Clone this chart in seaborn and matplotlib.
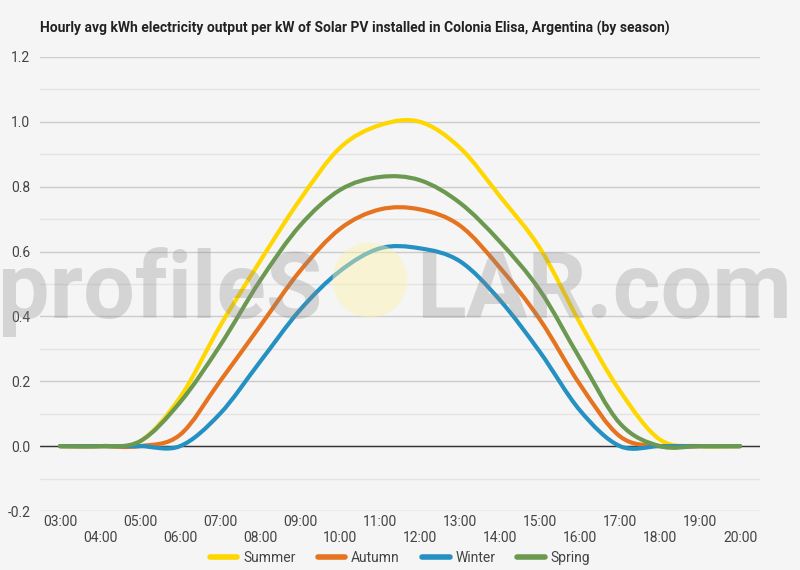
import matplotlib
matplotlib.use("Agg")
import matplotlib.pyplot as plt
import seaborn as sns
import pandas as pd
import numpy as np
from matplotlib.path import Path
from matplotlib.patches import PathPatch, Ellipse
from matplotlib.lines import Line2D
from matplotlib.ticker import MultipleLocator

# Valeurs horaires (kWh par kW installé)
hours = ["03:00", "04:00", "05:00", "06:00", "07:00", "08:00", "09:00", "10:00", "11:00",
         "12:00", "13:00", "14:00", "15:00", "16:00", "17:00", "18:00", "19:00", "20:00"]
summer = [0, 0, 0.015, 0.15, 0.37, 0.57, 0.76, 0.92, 0.99, 1.0, 0.92, 0.77, 0.61, 0.38, 0.17, 0.02, 0, 0]
autumn = [0, 0, 0, 0.035, 0.20, 0.37, 0.54, 0.67, 0.73, 0.73, 0.68, 0.55, 0.39, 0.19, 0.03, 0, 0, 0]
winter = [0, 0, 0, 0, 0.10, 0.26, 0.42, 0.54, 0.61, 0.61, 0.57, 0.45, 0.29, 0.11, 0, 0, 0, 0]
spring = [0, 0, 0.015, 0.135, 0.31, 0.51, 0.68, 0.79, 0.83, 0.82, 0.75, 0.63, 0.48, 0.27, 0.07, 0, 0, 0]

seasons = ["Summer", "Autumn", "Winter", "Spring"]
colors = ["#FFD700", "#E5731F", "#2491C2", "#6B994F"]

title = "Hourly avg kWh electricity output per kW of Solar PV installed in Colonia Elisa, Argentina (by season)"

rows = []
for name, vals in zip(seasons, [summer, autumn, winter, spring]):
    for i, v in enumerate(vals):
        rows.append({"idx": i, "hour": hours[i], "kwh": v, "season": name})
df = pd.DataFrame(rows)

sns.set_theme(style="white")
plt.rcParams["font.family"] = ["Roboto", "DejaVu Sans"]

bg = "#f5f5f5"
fig = plt.figure(figsize=(8, 5.7), dpi=100, facecolor=bg)
ax = fig.add_axes([0.05, 0.1035, 0.90, 0.7965])
ax.set_facecolor(bg)

sns.lineplot(data=df, x="idx", y="kwh", hue="season", hue_order=seasons,
             palette=dict(zip(seasons, colors)), linewidth=3, legend=False, ax=ax)


def courbe_lisse(line):
    # courbe de Bezier passant par les points (style "function" des graphiques web)
    pts = np.column_stack([line.get_xdata(), line.get_ydata()]).astype(float)
    ext = np.vstack([pts[0], pts, pts[-1]])
    verts = [pts[0]]
    codes = [Path.MOVETO]
    for i in range(len(pts) - 1):
        p0, p1, p2, p3 = ext[i], ext[i + 1], ext[i + 2], ext[i + 3]
        verts += [p1 + (p2 - p0) / 6, p2 - (p3 - p1) / 6, p2]
        codes += [Path.CURVE4] * 3
    return Path(verts, codes)


for line in list(ax.lines):
    patch = PathPatch(courbe_lisse(line), fill=False, edgecolor=line.get_color(),
                      lw=line.get_linewidth(), capstyle="round", joinstyle="round", zorder=3)
    ax.add_patch(patch)
    line.remove()

ax.set_xlim(-0.5, 17.5)
ax.set_ylim(-0.2, 1.2)
ax.yaxis.set_major_locator(MultipleLocator(0.2))
ax.yaxis.set_minor_locator(MultipleLocator(0.1))
ax.set_yticklabels([f"{t:.1f}" for t in ax.get_yticks()])
ax.grid(which="major", axis="y", color="#cccccc", lw=1)
ax.grid(which="minor", axis="y", color="#e4e4e4", lw=1)
ax.grid(False, axis="x")
ax.axhline(0, color="#333333", lw=1, zorder=2)
for s in ax.spines.values():
    s.set_visible(False)

ax.set_xticks(range(len(hours)))
ax.set_xticklabels([h if i % 2 == 0 else "\n" + h for i, h in enumerate(hours)])
ax.tick_params(which="both", length=0, labelsize=10, labelcolor="#444444")
ax.tick_params(axis="y", pad=7)
ax.tick_params(axis="x", pad=3)
ax.set_xlabel("")
ax.set_ylabel("")

fig.text(40 / 800, 1 - 28 / 570, title, fontweight="bold", fontsize=10, va="center", color="#222222")

handles = [Line2D([0], [0], color=c, lw=4) for c in colors]
leg = fig.legend(handles, seasons, loc="center", bbox_to_anchor=(0.5, 1 - 558 / 570), ncol=4,
                 frameon=False, fontsize=10, handlelength=2.0, columnspacing=1.6, handletextpad=0.4)
for t in leg.get_texts():
    t.set_color("#444444")

# filigrane profileSOLAR
fig.text(-2 / 800, 1 - 318 / 570, "profileS", fontsize=66, fontweight="bold", color="#8a8a8a",
         alpha=0.3, va="baseline", ha="left", zorder=10)
fig.text(416 / 800, 1 - 318 / 570, "LAR.com", fontsize=66, fontweight="bold", color="#8a8a8a",
         alpha=0.3, va="baseline", ha="left", zorder=10)
sun = Ellipse((370 / 800, 1 - 280 / 570), 75 / 800, 75 / 570, transform=fig.transFigure,
              facecolor="#fdf2a8", edgecolor="none", alpha=0.45, zorder=10)
fig.add_artist(sun)

fig.savefig("out.png", dpi=100, facecolor=bg)
